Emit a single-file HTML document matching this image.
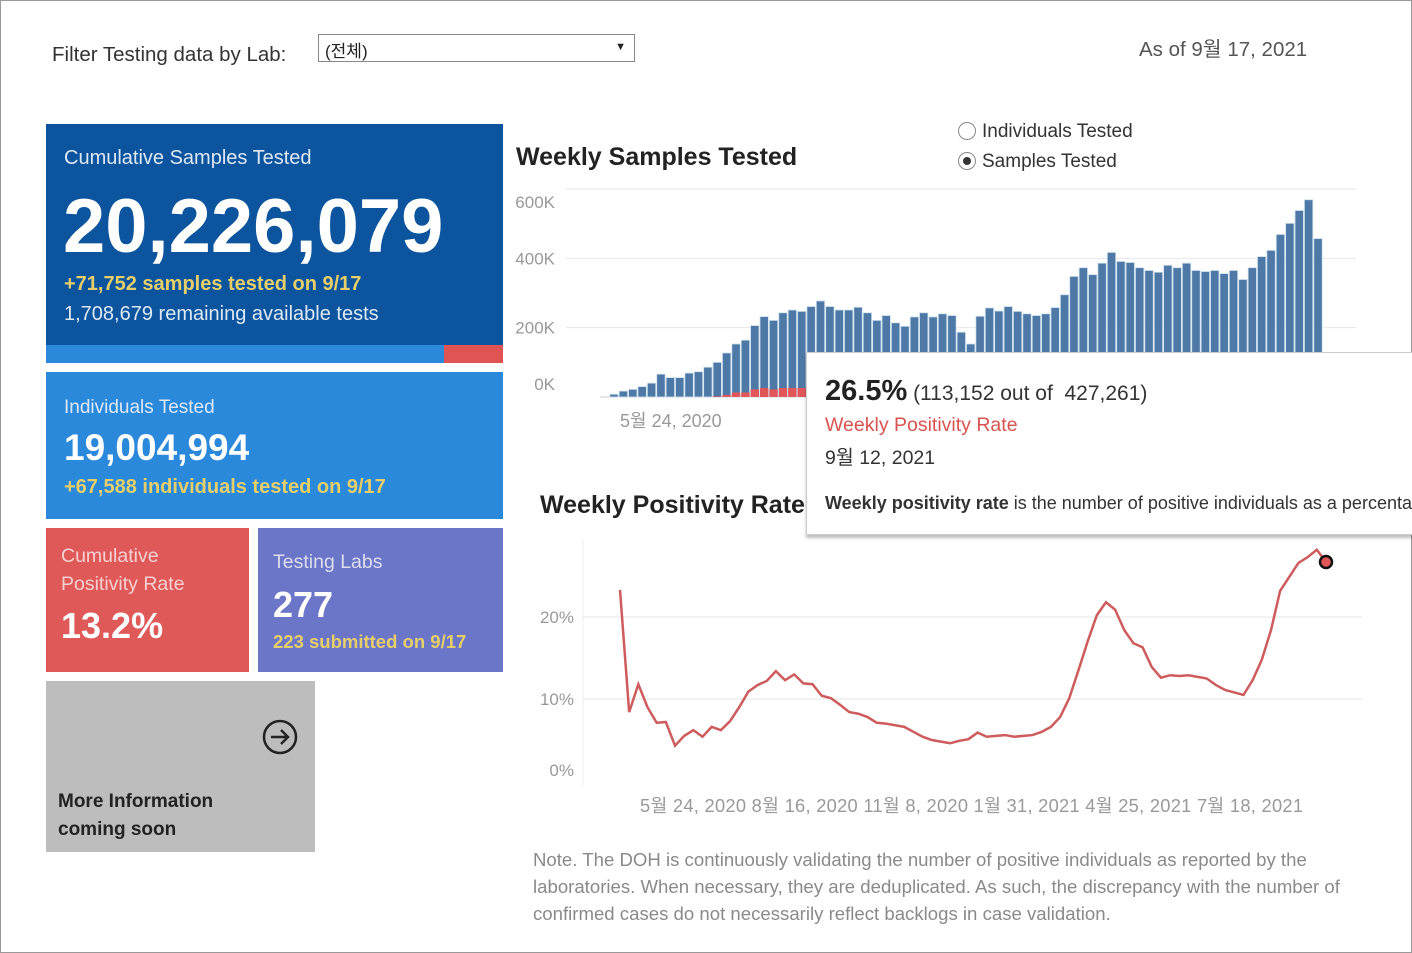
<!DOCTYPE html>
<html><head><meta charset="utf-8">
<style>
body{margin:0;width:1412px;height:953px;overflow:hidden;background:#fff;font-family:"Liberation Sans","Noto Sans CJK KR",sans-serif;}
#frame{position:absolute;left:0;top:0;width:1410px;height:951px;border:1px solid #999;}
.abs{position:absolute;}
.card{position:absolute;color:#fff;}
</style></head><body>
<div id="frame"></div>
<div class="abs" style="left:52px;top:43px;font-size:20.5px;color:#333">Filter Testing data by Lab:</div>
<div class="abs" style="left:318px;top:34px;width:317px;height:28px;border:1px solid #888;font-size:17px;color:#222;box-sizing:border-box;padding:2px 6px">(전체)<span style="position:absolute;right:8px;top:6px;font-size:11px">▼</span></div>
<div class="abs" style="left:1139px;top:32px;font-size:20.5px;color:#555">As of 9월 17, 2021</div>

<div class="card" style="left:46px;top:124px;width:457px;height:221px;background:#0c559e">
<div class="abs" style="left:18px;top:23px;font-size:20px;color:#dde8f5">Cumulative Samples Tested</div>
<div class="abs" style="left:17px;top:59px;font-size:76px;font-weight:bold">20,226,079</div>
<div class="abs" style="left:18px;top:149px;font-size:20px;font-weight:bold;color:#e6cf6a">+71,752 samples tested on 9/17</div>
<div class="abs" style="left:18px;top:179px;font-size:20px;color:#dde8f5">1,708,679 remaining available tests</div>
</div>
<div class="abs" style="left:46px;top:345px;width:398px;height:18px;background:#2c88db"></div>
<div class="abs" style="left:444px;top:345px;width:59px;height:18px;background:#e05454"></div>

<div class="card" style="left:46px;top:372px;width:457px;height:147px;background:#2b89dc">
<div class="abs" style="left:18px;top:25px;font-size:19px;color:#dde8f5">Individuals Tested</div>
<div class="abs" style="left:18px;top:55px;font-size:37px;font-weight:bold">19,004,994</div>
<div class="abs" style="left:18px;top:104px;font-size:20px;font-weight:bold;color:#e6cf6a">+67,588 individuals tested on 9/17</div>
</div>
<div class="card" style="left:46px;top:528px;width:203px;height:144px;background:#e05959">
<div class="abs" style="left:15px;top:14px;font-size:19.5px;line-height:28px;color:#f6d0d0">Cumulative<br>Positivity Rate</div>
<div class="abs" style="left:15px;top:77px;font-size:36px;font-weight:bold">13.2%</div>
</div>
<div class="card" style="left:258px;top:528px;width:245px;height:144px;background:#6c76c8">
<div class="abs" style="left:15px;top:23px;font-size:19.5px;color:#dde">Testing Labs</div>
<div class="abs" style="left:15px;top:56px;font-size:36px;font-weight:bold">277</div>
<div class="abs" style="left:15px;top:103px;font-size:18.5px;font-weight:bold;color:#e6cf6a">223 submitted on 9/17</div>
</div>
<div class="card" style="left:46px;top:681px;width:269px;height:171px;background:#bdbdbd;color:#222">
<svg class="abs" style="left:216px;top:38px" width="36" height="36"><circle cx="18" cy="18" r="16" fill="none" stroke="#222" stroke-width="2.5"/><path d="M9 18H26M19 11L26 18L19 25" fill="none" stroke="#222" stroke-width="2.5"/></svg>
<div class="abs" style="left:12px;top:107px;font-size:19px;font-weight:bold;line-height:28px">More Information<br>coming soon</div>
</div>

<div class="abs" style="left:516px;top:143px;font-size:25px;font-weight:bold;color:#222">Weekly Samples Tested</div>
<div class="abs" style="left:958px;top:121px;font-size:19px;color:#333"><span style="display:inline-block;width:16px;height:16px;border:1px solid #888;border-radius:50%;vertical-align:-3px;margin-right:6px"></span>Individuals Tested</div>
<div class="abs" style="left:958px;top:151px;font-size:19px;color:#333"><span style="display:inline-block;width:16px;height:16px;border:1px solid #888;border-radius:50%;vertical-align:-3px;margin-right:6px;position:relative"><span style="position:absolute;left:4px;top:4px;width:8px;height:8px;border-radius:50%;background:#333"></span></span>Samples Tested</div>

<svg class="abs" style="left:0;top:0" width="1412" height="953" id="charts"></svg>

<div class="abs" style="left:540px;top:491px;font-size:25px;font-weight:bold;color:#222">Weekly Positivity Rate</div>

<div class="abs" style="left:806px;top:352px;width:620px;height:181px;background:#fff;border:1px solid #ccc;box-shadow:0 3px 3px rgba(0,0,0,0.25);overflow:hidden">
<div class="abs" style="left:18px;top:22px;font-size:21px;color:#333;white-space:nowrap"><span style="font-size:29px;font-weight:bold;color:#222">26.5%</span> (113,152 out of &nbsp;427,261)</div>
<div class="abs" style="left:18px;top:61px;font-size:19.5px;color:#d9534f">Weekly Positivity Rate</div>
<div class="abs" style="left:18px;top:88px;font-size:19.5px;color:#333">9월 12, 2021</div>
<div class="abs" style="left:18px;top:140px;font-size:18px;color:#333;white-space:nowrap"><b>Weekly positivity rate</b> is the number of positive individuals as a percentage</div>
</div>

<div class="abs" style="left:533px;top:846px;width:835px;font-size:18.6px;line-height:27px;color:#8a8a8a">Note. The DOH is continuously validating the number of positive individuals as reported by the laboratories. When necessary, they are deduplicated. As such, the discrepancy with the number of confirmed cases do not necessarily reflect backlogs in case validation.</div>

<script>
const samples=[8,17,22,30,40,66,56,56,69,73,86,100,127,153,164,206,232,221,243,251,247,261,277,261,251,251,259,243,221,235,214,204,231,243,231,240,235,187,153,233,257,248,261,247,240,235,240,258,295,348,373,353,386,417,391,388,373,365,360,380,373,386,365,362,365,356,365,339,373,405,423,469,501,538,569,457];
const positives=[0,0,0,0,0,0,0,0,0,0,0,2,6,13,13,22,26,22,26,26,26,24,22,20,18,17,16,15,14,13,12,11,11,11,10,10,10,8,7,11,12,12,13,13,14,15,17,20,28,40,50,55,50,40,35,32,30,28,27,28,27,27,25,24,23,22,22,22,28,40,55,75,90,110,15,5];
const yTicks=[0,200,400,600];
const yTickLabels=["0K","200K","400K","600K"];
const rate=[23.3,8.4,11.8,9.0,7.1,7.2,4.3,5.5,6.2,5.4,6.6,6.2,7.3,9.0,10.9,11.7,12.2,13.4,12.3,13.0,11.9,11.8,10.4,10.1,9.3,8.4,8.2,7.8,7.1,7.0,6.8,6.6,6.0,5.4,5.0,4.8,4.6,4.9,5.1,5.9,5.4,5.5,5.6,5.4,5.5,5.6,6.0,6.6,7.8,10.1,13.5,17.0,20.2,21.8,20.9,18.4,16.8,16.3,13.9,12.6,12.9,12.8,12.9,12.7,12.5,11.7,11.1,10.8,10.5,12.3,14.8,18.4,23.2,24.9,26.6,27.3,28.2,26.7];
const rTicks=[0,10,20];
const rTickLabels=["0%","10%","20%"];
const xLabels=["5월 24, 2020","8월 16, 2020","11월 8, 2020","1월 31, 2021","4월 25, 2021","7월 18, 2021"];

const NS="http://www.w3.org/2000/svg";
const svg=document.getElementById('charts');
function mk(t,a){const e=document.createElementNS(NS,t);for(const k in a)e.setAttribute(k,a[k]);svg.appendChild(e);return e;}
const bx=i=>614+i*(1318-614)/(samples.length-1);
const by=v=>397-v*(397-189)/600;
yTicks.forEach((t,i)=>{
 if(t>0){const g=mk('line',{x1:566,x2:1356,y1:by(t),y2:by(t),stroke:'#e6e6e6'});}
 const off=(t===0?-7:(t===600?19:6));
 const l=mk('text',{x:555,y:by(t)+off,'text-anchor':'end','font-size':17,fill:'#999'});
 l.textContent=yTickLabels[i];
});
mk('line',{x1:600,x2:806,y1:397,y2:397,stroke:'#ccc'});
samples.forEach((v,i)=>{
 const r=mk('rect',{x:bx(i)-4.2,y:by(v),width:8.4,height:by(0)-by(v),fill:'#4e79a7',stroke:'#cfe3ef','stroke-width':0.8});
 
 const p=positives[i];
 if(p>0){const q=mk('rect',{x:bx(i)-4.2,y:by(p),width:8.4,height:by(0)-by(p),fill:'#e15759'});
 }
});
const bl=mk('text',{x:620,y:427,'font-size':18,fill:'#999'});
bl.textContent=xLabels[0];
const lx=i=>620+i*(1326-620)/(rate.length-1);
const ly=v=>781-v*8.2;
mk('line',{x1:583,x2:583,y1:540,y2:785,stroke:'#eee'});
rTicks.forEach((t,i)=>{
 if(t>0){const g=mk('line',{x1:583,x2:1362,y1:ly(t),y2:ly(t),stroke:'#e6e6e6'});}
 const l=mk('text',{x:574,y:(t===0?776:ly(t)+6),'text-anchor':'end','font-size':17,fill:'#999'});
 l.textContent=rTickLabels[i];
});
const path=mk('polyline',{points:rate.map((v,i)=>lx(i)+','+ly(v)).join(' '),fill:'none',stroke:'#cf5c5c','stroke-width':2.5});

const last=rate.length-1;
const dot=mk('circle',{cx:lx(last),cy:ly(rate[last]),r:6,fill:'#e15759',stroke:'#111','stroke-width':2.5});

const xt=mk('text',{x:640,y:812,'font-size':18.3,fill:'#999',textLength:663,lengthAdjust:'spacing'});

xt.textContent=xLabels.join(' ');
</script>
</body></html>
